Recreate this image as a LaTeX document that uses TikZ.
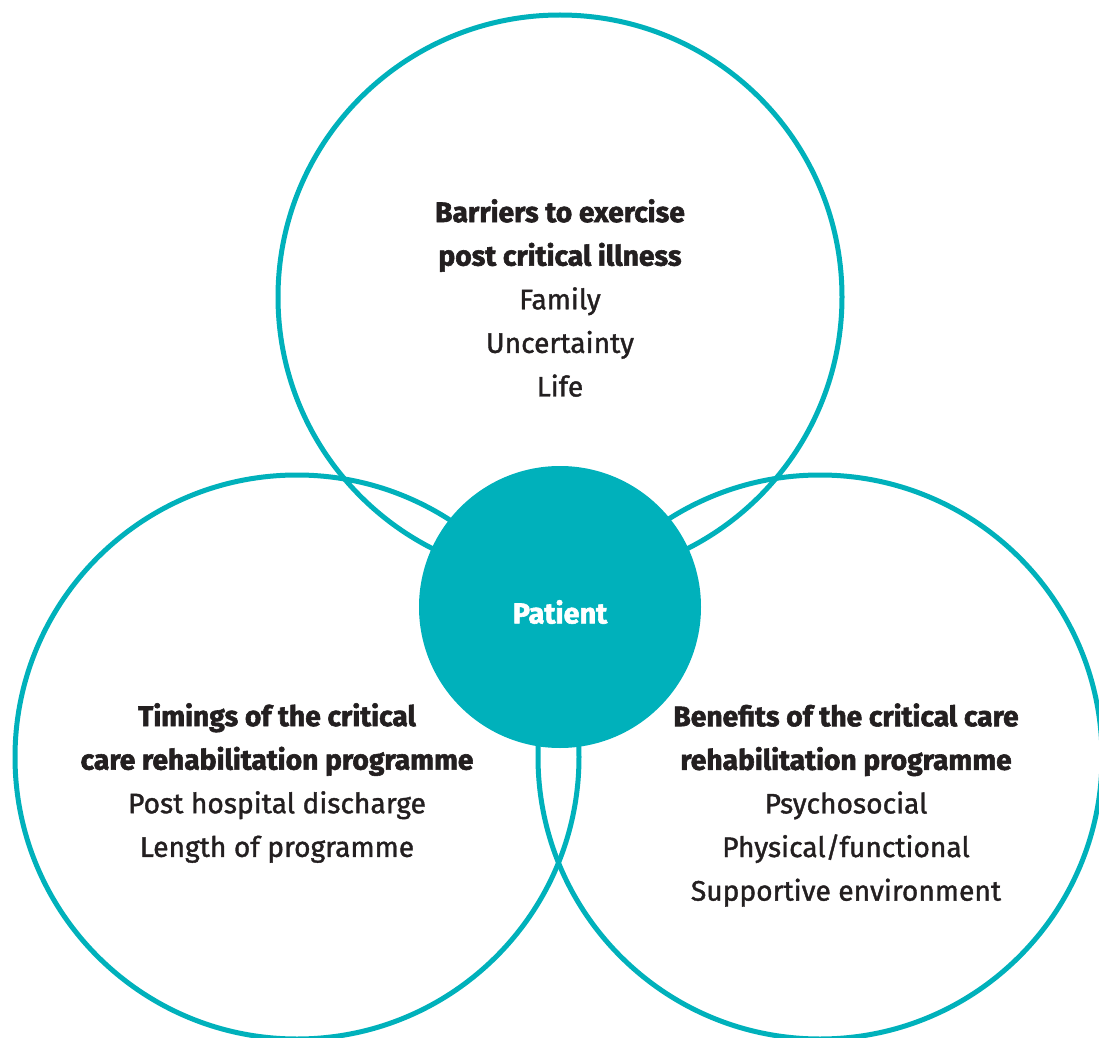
\documentclass[tikz,border=0pt]{standalone}
\usepackage{fontspec}
\setmainfont{Fira Sans}[UprightFeatures={FakeBold=1.3}, BoldFeatures={FakeBold=2}]
\usepackage{tikz}
\usetikzlibrary{positioning}

\definecolor{teal}{HTML}{00B1BB}
\definecolor{ink}{HTML}{231F20}

\begin{document}
\begin{tikzpicture}[x=0.5pt, y=-0.5pt,
			ring/.style={circle, draw=teal, line width=2.5pt, minimum size=282pt, inner sep=0, outer sep=0},
			hub/.style={circle, fill=teal, minimum size=141pt, inner sep=0, outer sep=0},
			block/.style={align=center, text=ink, inner sep=0, font=\fontsize{14.1}{21.8}\selectfont}]

			\useasboundingbox (0,0) rectangle (1099,1038);

			% the three rings
			\node[ring] (barriers) at (560,297) {};
			\node[ring] (timings) at (297,757) {};
			\node[ring] (benefits) at (820,757) {};

			% patient in the middle
			\node[hub] (patient) at (560,607) {};
			\node[font=\fontsize{14.4}{16}\selectfont\bfseries, text=white] (patientlbl) at (560,612) {Patient};

			% texts
			\node[block] (barrierstxt) at (560,298) {\textbf{Barriers to exercise}\\
				\textbf{post critical illness}\\ Family\\ Uncertainty\\ Life};
			\node[block] (timingstxt) at (277,783) {\textbf{Timings of the critical}\\
				\textbf{care rehabilitation programme}\\ Post hospital discharge\\ Length of programme};
			\node[block] (benefitstxt) at (846,805) {\textbf{Benefits of the critical care}\\
				\textbf{rehabilitation programme}\\ Psychosocial\\ Physical/functional\\ Supportive environment};
		\end{tikzpicture}
\end{document}
